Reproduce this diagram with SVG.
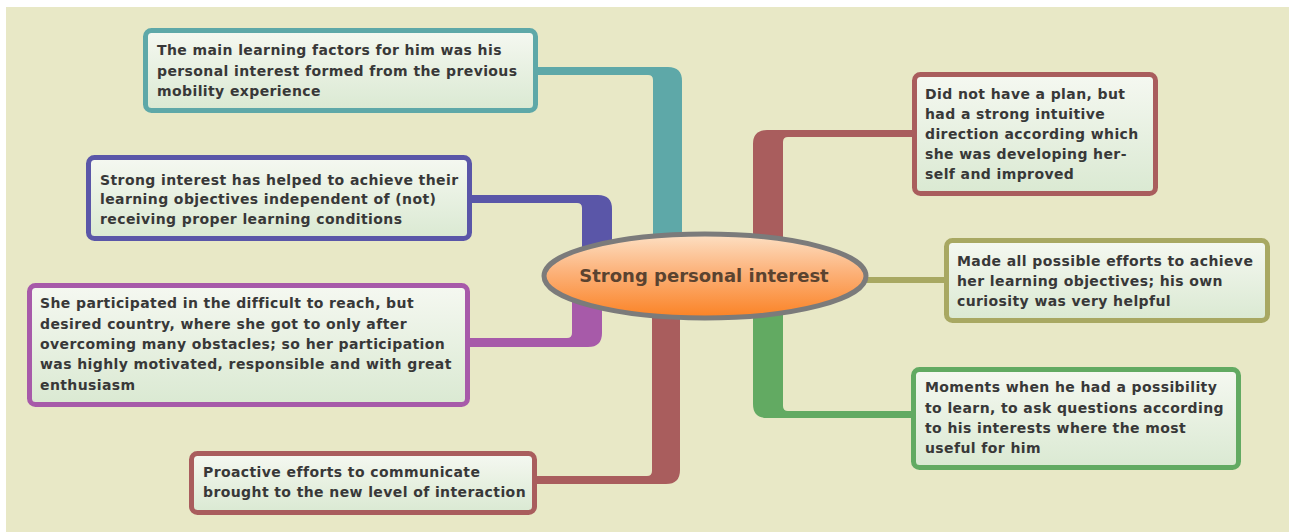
<svg xmlns="http://www.w3.org/2000/svg" width="1289" height="532" viewBox="0 0 1289 532">
  <defs>
    <linearGradient id="boxFill" x1="0" y1="0" x2="0" y2="1">
      <stop offset="0" stop-color="#f5f8f1"/>
      <stop offset="1" stop-color="#dae9d2"/>
    </linearGradient>
    <linearGradient id="hubFill" x1="0" y1="0" x2="0" y2="1">
      <stop offset="0" stop-color="#fde0c4"/>
      <stop offset="0.45" stop-color="#fcb27a"/>
      <stop offset="1" stop-color="#fb8224"/>
    </linearGradient>
    <style>
      .box { fill: url(#boxFill); stroke-width: 5; }
      .txt { font-family: "DejaVu Sans", "Liberation Sans", sans-serif; font-weight: bold; font-size: 14px; letter-spacing: 0.4px; fill: #383838; }
      .hubtxt { font-family: "DejaVu Sans", "Liberation Sans", sans-serif; font-weight: bold; font-size: 18px; fill: #5a4330; }
      .teal { stroke: #5ea8a8; } .tealf { fill: #5ea8a8; }
      .blue { stroke: #5a56a8; } .bluef { fill: #5a56a8; }
      .purple { stroke: #a75aa9; } .purplef { fill: #a75aa9; }
      .red { stroke: #a95d5d; } .redf { fill: #a95d5d; }
      .olive { stroke: #a8a862; } .olivef { fill: #a8a862; }
      .green { stroke: #62aa62; } .greenf { fill: #62aa62; }
    </style>
  </defs>

  <!-- canvas -->
  <rect x="0" y="0" width="1289" height="532" fill="#ffffff"/>
  <rect x="6" y="7" width="1283" height="525" fill="#e8e8c6"/>

  <!-- branch connectors -->
  <g id="connectors">
    <path class="tealf" d="M538,67 H668 Q682,67 682,81 V255 H653 V80 Q653,75 648,75 H538 Z"/>
    <path class="bluef" d="M472,195 H598 Q612,195 612,209 V260 H582 V208 Q582,203 577,203 H472 Z"/>
    <path class="purplef" d="M602,290 V333 Q602,347 588,347 H470 V338 H567 Q572,338 572,333 V290 Z"/>
    <path class="redf" d="M680,300 V470 Q680,484 666,484 H537 V476 H647 Q652,476 652,471 V300 Z"/>
    <path class="redf" d="M753,255 V144 Q753,130 767,130 H912 V137 H788 Q783,137 783,142 V255 Z"/>
    <rect class="olivef" x="860" y="277" width="86" height="6"/>
    <path class="greenf" d="M753,300 V404 Q753,418 767,418 H911 V411 H788 Q783,411 783,406 V300 Z"/>
  </g>

  <!-- central topic -->
  <g id="hub">
    <ellipse cx="705" cy="276" rx="161" ry="42" fill="url(#hubFill)" stroke="#7b7b7b" stroke-width="5"/>
    <text class="hubtxt" x="704" y="282" text-anchor="middle">Strong personal interest</text>
  </g>

  <g id="node-mobility">
    <rect class="box teal" x="145.5" y="30.5" width="390" height="80" rx="6"/>
    <text class="txt" x="157" y="55">The main learning factors for him was his</text>
    <text class="txt" x="157" y="76">personal interest formed from the previous</text>
    <text class="txt" x="157" y="96">mobility experience</text>
  </g>

  <g id="node-objectives">
    <rect class="box blue" x="88.5" y="157.5" width="381" height="81" rx="6"/>
    <text class="txt" x="100" y="185">Strong interest has helped to achieve their</text>
    <text class="txt" x="100" y="204">learning objectives independent of (not)</text>
    <text class="txt" x="100" y="224">receiving proper learning conditions</text>
  </g>

  <g id="node-country">
    <rect class="box purple" x="29.5" y="285.5" width="438" height="119" rx="6"/>
    <text class="txt" x="40" y="308">She participated in the difficult to reach, but</text>
    <text class="txt" x="40" y="329">desired country, where she got to only after</text>
    <text class="txt" x="40" y="349">overcoming many obstacles; so her participation</text>
    <text class="txt" x="40" y="369">was highly motivated, responsible and with great</text>
    <text class="txt" x="40" y="390">enthusiasm</text>
  </g>

  <g id="node-proactive">
    <rect class="box red" x="191.5" y="453.5" width="343" height="59" rx="6"/>
    <text class="txt" x="203" y="477">Proactive efforts to communicate</text>
    <text class="txt" x="203" y="497">brought to the new level of interaction</text>
  </g>

  <g id="node-direction">
    <rect class="box red" x="914.5" y="74.5" width="241" height="119" rx="6"/>
    <text class="txt" x="925" y="99">Did not have a plan, but</text>
    <text class="txt" x="925" y="119">had a strong intuitive</text>
    <text class="txt" x="925" y="139">direction according which</text>
    <text class="txt" x="925" y="159">she was developing her-</text>
    <text class="txt" x="925" y="179">self and improved</text>
  </g>

  <g id="node-efforts">
    <rect class="box olive" x="946.5" y="240.5" width="321" height="80" rx="6"/>
    <text class="txt" x="957" y="266">Made all possible efforts to achieve</text>
    <text class="txt" x="957" y="286">her learning objectives; his own</text>
    <text class="txt" x="957" y="306">curiosity was very helpful</text>
  </g>

  <g id="node-moments">
    <rect class="box green" x="913.5" y="369.5" width="325" height="98" rx="6"/>
    <text class="txt" x="925" y="392">Moments when he had a possibility</text>
    <text class="txt" x="925" y="413">to learn, to ask questions according</text>
    <text class="txt" x="925" y="433">to his interests where the most</text>
    <text class="txt" x="925" y="453">useful for him</text>
  </g>
</svg>
